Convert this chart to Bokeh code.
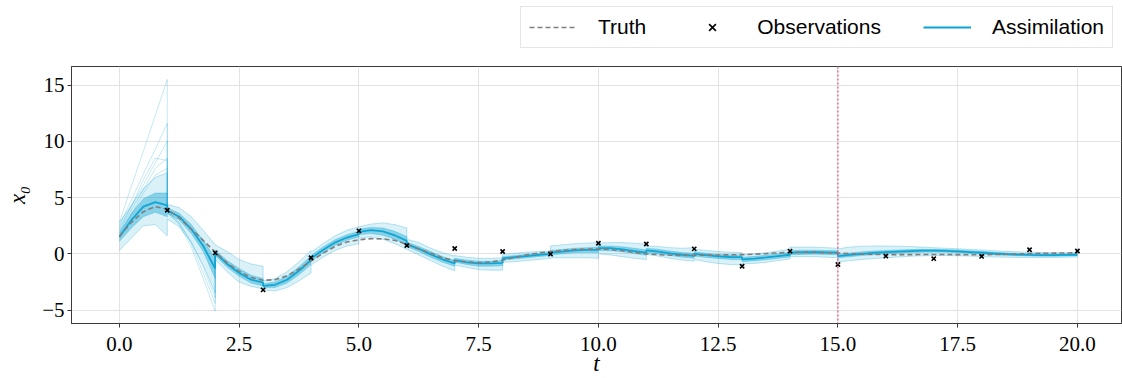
import numpy as np
from bokeh.plotting import figure
from bokeh.layouts import column
from bokeh.models import Legend, LegendItem, Span, FixedTicker, PrintfTickFormatter, Range1d
from bokeh.embed import file_html
from bokeh.resources import INLINE

# ---------------- data ----------------
truth_x = [1.55, 2.8, 3.75, 4.2, 3.95, 3.2, 2.2, 1.2, 0.15, -0.8, -1.55, -2.1, -2.35, -2.3, -1.95,
           -1.35, -0.65, 0.05, 0.65, 1.05, 1.25, 1.35, 1.33, 1.2, 0.85, 0.45, 0.05, -0.35, -0.6,
           -0.72, -0.78, -0.72, -0.55, -0.32, -0.08, 0.08, 0.2, 0.3, 0.38, 0.42, 0.43, 0.38, 0.27,
           0.12, 0.0, -0.07, -0.12, -0.14, -0.14, -0.12, -0.1, -0.08, -0.07, -0.03, 0.02, 0.08,
           0.13, 0.15, 0.15, 0.1, 0.06, 0.02, -0.02, -0.05, -0.06, -0.07, -0.07, -0.06, -0.06,
           -0.06, -0.07, -0.08, -0.08, -0.06, -0.04, -0.01, 0.02, 0.04, 0.06, 0.08, 0.09]

obs_t = [1, 2, 3, 4, 5, 6, 7, 8, 9, 10, 11, 12, 13, 14, 15, 16, 17, 18, 19, 20]
obs_x = [3.88, 0.09, -3.2, -0.35, 2.04, 0.74, 0.47, 0.21, -0.02, 0.94, 0.88, 0.44, -1.1, 0.24,
         -0.95, -0.2, -0.43, -0.23, 0.36, 0.25]

# ensemble mean per assimilation window (15 windows of 1, then free forecast 15..20)
mean_seg = [
    [1.5, 3.0, 4.2, 4.6, 4.3],
    [3.85, 3.3, 2.2, 0.7, -1.3],
    [0.1, -0.9, -1.7, -2.3, -2.55],
    [-2.85, -2.75, -2.3, -1.5, -0.55],
    [-0.4, 0.35, 1.0, 1.45, 1.75],
    [1.95, 2.1, 2.0, 1.65, 1.15],
    [0.85, 0.45, -0.05, -0.5, -0.85],
    [-0.55, -0.75, -0.85, -0.85, -0.8],
    [-0.4, -0.3, -0.2, -0.1, 0.0],
    [0.1, 0.2, 0.3, 0.35, 0.35],
    [0.5, 0.5, 0.4, 0.25, 0.1],
    [0.3, 0.2, 0.05, -0.08, -0.18],
    [0.0, -0.12, -0.22, -0.28, -0.3],
    [-0.5, -0.42, -0.32, -0.2, -0.08],
    [0.1, 0.13, 0.15, 0.13, 0.1],
    [-0.2, -0.1, 0.0, 0.08, 0.15, 0.2, 0.25, 0.28, 0.28, 0.26, 0.22, 0.16, 0.1, 0.03, -0.03,
     -0.07, -0.1, -0.12, -0.12, -0.1, -0.08],
]
hi_out = [
    [2.8, 4.3, 5.8, 6.8, 7.2],
    [4.4, 4.1, 3.3, 2.1, 0.8],
    [0.8, 0.2, -0.5, -0.9, -1.1],
    [-2.4, -2.2, -1.6, -0.7, 0.3],
    [0.15, 0.9, 1.6, 2.1, 2.4],
    [2.4, 2.65, 2.75, 2.6, 2.3],
    [1.3, 1.0, 0.5, 0.1, -0.2],
    [-0.15, -0.3, -0.4, -0.4, -0.35],
    [-0.05, 0.05, 0.15, 0.2, 0.25],
    [0.7, 0.8, 0.9, 0.95, 1.0],
    [0.95, 1.0, 1.0, 0.95, 0.85],
    [0.7, 0.65, 0.55, 0.5, 0.55],
    [0.4, 0.3, 0.2, 0.15, 0.1],
    [-0.1, 0.0, 0.1, 0.25, 0.4],
    [0.6, 0.6, 0.6, 0.55, 0.5],
    [0.45, 0.6, 0.68, 0.7, 0.7, 0.68, 0.65, 0.6, 0.55, 0.5, 0.45, 0.4, 0.35, 0.28, 0.22, 0.18,
     0.14, 0.12, 0.1, 0.1, 0.1],
]
lo_out = [
    [0.3, 1.4, 2.5, 2.6, 1.6],
    [3.1, 2.4, 1.0, -1.0, -3.5],
    [-0.5, -1.6, -2.5, -2.9, -3.1],
    [-3.2, -3.3, -3.0, -2.4, -1.7],
    [-1.0, -0.3, 0.3, 0.7, 0.9],
    [1.4, 1.5, 1.3, 0.9, 0.4],
    [0.4, -0.1, -0.6, -1.1, -1.5],
    [-1.0, -1.2, -1.4, -1.45, -1.45],
    [-0.75, -0.7, -0.6, -0.5, -0.4],
    [-0.35, -0.35, -0.35, -0.35, -0.4],
    [0.0, -0.1, -0.25, -0.4, -0.5],
    [-0.05, -0.2, -0.4, -0.55, -0.65],
    [-0.5, -0.7, -0.85, -0.95, -1.0],
    [-0.9, -0.85, -0.75, -0.6, -0.45],
    [-0.25, -0.25, -0.25, -0.3, -0.35],
    [-0.75, -0.6, -0.5, -0.42, -0.35, -0.28, -0.22, -0.18, -0.15, -0.15, -0.17, -0.2, -0.24,
     -0.28, -0.3, -0.32, -0.33, -0.33, -0.32, -0.3, -0.28],
]
hi_in = [
    [1.9, 3.6, 4.9, 5.4, 5.4],
    [4.1, 3.6, 2.6, 1.2, -0.4],
    [0.35, -0.6, -1.3, -1.9, -2.2],
    [-2.65, -2.5, -2.0, -1.15, -0.2],
    [-0.15, 0.6, 1.25, 1.7, 2.0],
    [2.2, 2.35, 2.3, 2.0, 1.55],
    [1.05, 0.65, 0.2, -0.25, -0.6],
    [-0.4, -0.55, -0.65, -0.65, -0.6],
    [-0.25, -0.15, -0.05, 0.05, 0.12],
    [0.3, 0.4, 0.5, 0.55, 0.6],
    [0.7, 0.7, 0.62, 0.5, 0.35],
    [0.5, 0.4, 0.25, 0.12, 0.05],
    [0.18, 0.05, -0.05, -0.1, -0.12],
    [-0.3, -0.22, -0.12, 0.0, 0.12],
    [0.3, 0.32, 0.33, 0.3, 0.28],
    [-0.05, 0.08, 0.18, 0.25, 0.3, 0.34, 0.38, 0.4, 0.4, 0.38, 0.34, 0.28, 0.22, 0.15, 0.09,
     0.04, 0.0, -0.02, -0.03, -0.02, 0.0],
]
lo_in = [
    [1.1, 2.3, 3.3, 3.7, 3.3],
    [3.6, 3.0, 1.8, 0.2, -2.2],
    [-0.15, -1.2, -2.0, -2.6, -2.85],
    [-3.0, -3.0, -2.6, -1.85, -0.95],
    [-0.65, 0.1, 0.75, 1.2, 1.5],
    [1.7, 1.8, 1.65, 1.3, 0.75],
    [0.65, 0.2, -0.3, -0.75, -1.1],
    [-0.75, -0.95, -1.1, -1.1, -1.05],
    [-0.55, -0.45, -0.35, -0.25, -0.15],
    [-0.1, 0.0, 0.1, 0.12, 0.1],
    [0.3, 0.28, 0.18, 0.02, -0.12],
    [0.1, 0.0, -0.15, -0.3, -0.4],
    [-0.2, -0.32, -0.42, -0.5, -0.52],
    [-0.7, -0.62, -0.52, -0.4, -0.28],
    [-0.08, -0.05, -0.03, -0.05, -0.08],
    [-0.35, -0.25, -0.15, -0.07, 0.0, 0.06, 0.1, 0.14, 0.15, 0.14, 0.1, 0.04, -0.02, -0.08,
     -0.13, -0.17, -0.2, -0.21, -0.21, -0.19, -0.16],
]
# diverging members of the first two windows (forecast, then analysis value at the window end)
spikes_w0 = [
    [2.8, 6.0, 9.1, 12.3, 15.5, 3.9],
    [2.5, 4.8, 7.1, 9.3, 11.6, 3.9],
    [2.3, 4.3, 6.1, 8.1, 10.0, 4.0],
    [2.1, 4.2, 6.6, 8.5, 8.3, 3.8],
    [2.0, 3.9, 5.7, 7.6, 8.5, 3.9],
    [1.7, 3.5, 5.4, 7.0, 7.6, 4.1],
]
spikes_w1 = [
    [3.7, 2.6, 0.6, -2.2, -5.1, 0.1],
    [3.8, 2.8, 0.9, -1.7, -4.4, 0.2],
    [3.6, 2.7, 1.1, -1.2, -3.9, 0.0],
]

x_ticks = [0.0, 2.5, 5.0, 7.5, 10.0, 12.5, 15.0, 17.5, 20.0]
y_ticks = [-5, 0, 5, 10, 15]
legend_labels = ["Truth", "Observations", "Assimilation"]

# ---------------- build ----------------
truth_t = np.arange(0, 20.001, 0.25)
seg_t = [np.array([k, k + 0.25, k + 0.5, k + 0.75, k + 1.0]) for k in range(15)]
seg_t.append(np.arange(15, 20.001, 0.25))
t_ens = np.concatenate(seg_t)
flat = lambda segs: np.concatenate([np.array(s, dtype=float) for s in segs])
m = flat(mean_seg)
ho, lo, hi, li = flat(hi_out), flat(lo_out), flat(hi_in), flat(lo_in)

BLUE = "#0aa3d3"
GRAY = "#7f7f7f"
LEG_H = 56

p = figure(width=1122, height=378 - LEG_H, output_backend="svg", toolbar_location=None,
           x_range=Range1d(-1.0, 20.92), y_range=Range1d(-6.19, 16.65),
           min_border_left=71, min_border_right=1, min_border_top=66 - LEG_H,
           min_border_bottom=50)
p.background_fill_color = "white"
p.border_fill_color = "white"
p.outline_line_color = "#3a3a3a"
p.outline_line_width = 1

p.varea(x=t_ens, y1=lo, y2=ho, fill_color=BLUE, fill_alpha=0.15)
p.varea(x=t_ens, y1=li, y2=hi, fill_color=BLUE, fill_alpha=0.4)
for arr, a in ((ho, 0.35), (lo, 0.35), (hi, 0.35), (li, 0.35)):
    p.line(t_ens, arr, line_color=BLUE, line_width=0.8, line_alpha=a)
t_w0 = [0, 0.25, 0.5, 0.75, 1.0, 1.0]
for s in spikes_w0:
    p.line(t_w0, s, line_color=BLUE, line_width=0.8, line_alpha=0.3)
t_w1 = [1.0, 1.25, 1.5, 1.75, 2.0, 2.0]
for s in spikes_w1:
    p.line(t_w1, s, line_color=BLUE, line_width=0.8, line_alpha=0.3)

p.line(t_ens, m, line_color=BLUE, line_width=1.8, line_alpha=0.95)
p.line(truth_t, truth_x, line_color=GRAY, line_width=1.6, line_dash="5 3")
p.scatter(obs_t, obs_x, marker="x", size=6, line_color="black", line_width=1.6)

p.add_layout(Span(location=15.0, dimension="height", line_color="#e2637f",
                  line_dash="2 2", line_width=1.3))

# axes / grid
p.xaxis.ticker = FixedTicker(ticks=x_ticks)
p.xaxis.formatter = PrintfTickFormatter(format="%.1f")
p.yaxis.ticker = FixedTicker(ticks=y_ticks)
p.yaxis.major_label_overrides = {-5: "\u22125"}
for ax in (p.xaxis, p.yaxis):
    ax.major_label_text_font = "Liberation Serif"
    ax.major_label_text_font_size = "21px"
    ax.major_label_text_color = "black"
    ax.axis_label_text_font = "Liberation Serif"
    ax.axis_label_text_font_size = "23px"
    ax.axis_label_text_font_style = "italic"
    ax.axis_label_text_color = "black"
    ax.axis_line_color = "#3a3a3a"
    ax.major_tick_line_color = "#3a3a3a"
    ax.major_tick_out = 4
    ax.major_tick_in = 0
    ax.minor_tick_line_color = None
p.xaxis.major_label_text_line_height = 0.9
p.xaxis.axis_label_text_line_height = 0.9
p.xaxis.major_label_standoff = 9
p.xaxis.axis_label_standoff = -3
p.yaxis.major_label_standoff = 3
p.yaxis.axis_label_standoff = 9
p.xaxis.axis_label = "t"
p.yaxis.axis_label = "x\u2080"
p.grid.grid_line_color = "#e3e3e3"
p.grid.grid_line_width = 1

# ---------------- legend strip above the plot ----------------
lg = figure(width=1122, height=LEG_H, output_backend="svg", toolbar_location=None,
            x_range=Range1d(0, 1), y_range=Range1d(0, 1), x_axis_type=None, y_axis_type=None,
            min_border_left=0, min_border_right=0, min_border_top=0, min_border_bottom=0)
lg.outline_line_color = None
lg.grid.visible = False
lg.background_fill_color = "white"
lg.border_fill_color = "white"
# proxy renderers for the legend glyphs (placed outside the strip's visible range)
r_truth = lg.line([5, 6], [5, 5], line_color=GRAY, line_width=1.6, line_dash="5 3")
r_obs = lg.scatter([5], [5], marker="x", size=6, line_color="black", line_width=1.6)
r_assim = lg.line([5, 6], [5, 5], line_color=BLUE, line_width=1.8)
legend = Legend(items=[LegendItem(label=legend_labels[0], renderers=[r_truth]),
                       LegendItem(label=legend_labels[1], renderers=[r_obs]),
                       LegendItem(label=legend_labels[2], renderers=[r_assim])],
                location=(449, LEG_H - 48), orientation="horizontal",
                label_text_font="Liberation Sans",
                label_text_font_size="21px", label_text_color="black",
                glyph_width=48, glyph_height=24, label_standoff=21, spacing=42,
                padding=8, margin=0, border_line_color="#cccccc", border_line_width=1,
                background_fill_color="white", background_fill_alpha=1.0)
lg.add_layout(legend, "center")

layout = column(lg, p, spacing=0)
open("out.html", "w").write(file_html(layout, INLINE))
